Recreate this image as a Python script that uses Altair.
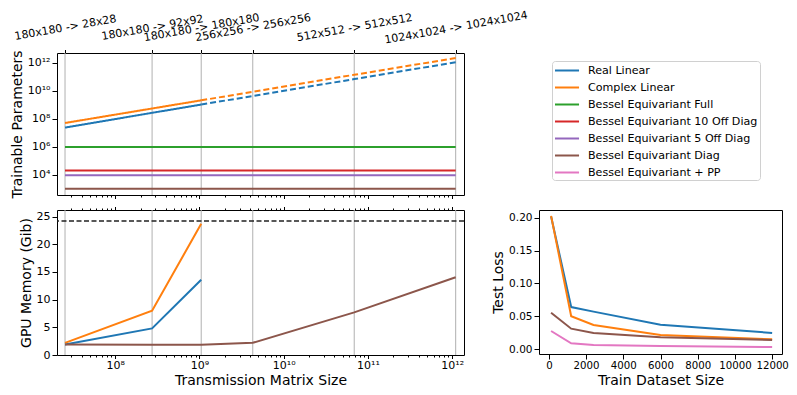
import altair as alt
import pandas as pd

# ---------------- data ----------------
series_names = ["Real Linear", "Complex Linear", "Bessel Equivariant Full",
                "Bessel Equivariant 10 Off Diag", "Bessel Equivariant 5 Off Diag",
                "Bessel Equivariant Diag", "Bessel Equivariant + PP"]
series_colors = ["#1f77b4", "#ff7f0e", "#2ca02c", "#d62728", "#9467bd", "#8c564b", "#e377c2"]

matrix_sizes = [25401600, 274233600, 1049760000, 4294967296, 68719476736, 1099511627776]
size_labels = ["180x180 -> 28x28", "180x180 -> 92x92", "180x180 -> 180x180",
               "256x256 -> 256x256", "512x512 -> 512x512", "1024x1024 -> 1024x1024"]

# trainable parameters (top panel)
params_real = [2.4e7, 2.7e8, 1.05e9, 4.3e9, 6.9e10, 1.1e12]
params_complex = [5.1e7, 5.5e8, 2.1e9, 8.6e9, 1.4e11, 2.2e12]
params_full = [1.0e6, 1.0e6, 1.0e6, 1.0e6, 1.0e6, 1.0e6]
params_off10 = [2.1e4, 2.1e4, 2.1e4, 2.1e4, 2.1e4, 2.1e4]
params_off5 = [9.5e3, 9.5e3, 9.5e3, 9.5e3, 9.5e3, 9.5e3]
params_diag = [1.05e3, 1.05e3, 1.05e3, 1.05e3, 1.05e3, 1.05e3]
measured_count = 3  # linear models measured up to 180x180 -> 180x180, extrapolated after

# GPU memory (bottom-left panel)
gpu_real = [1.9, 4.8, 13.6]
gpu_complex = [2.2, 8.0, 23.7]
gpu_diag = [1.9, 1.85, 1.85, 2.2, 7.7, 14.05]
gpu_limit = [24.2]

# test loss (bottom-right panel)
train_sizes = [120, 1200, 2400, 6000, 12000]
loss_real = [0.202, 0.064, 0.057, 0.037, 0.0245]
loss_complex = [0.203, 0.050, 0.0366, 0.0214, 0.0148]
loss_diag = [0.0554, 0.031, 0.0244, 0.0178, 0.0137]
loss_pp = [0.0275, 0.0087, 0.006, 0.0045, 0.003]

# ---------------- tables ----------------
top_rows = []
for name, vals in [(series_names[0], params_real), (series_names[1], params_complex)]:
    for i, (s, v) in enumerate(zip(matrix_sizes, vals)):
        if i < measured_count:
            top_rows.append(dict(series=name, style="measured", size=s, params=v))
        if i >= measured_count - 1:
            top_rows.append(dict(series=name, style="extrapolated", size=s, params=v))
for name, vals in [(series_names[2], params_full), (series_names[3], params_off10),
                   (series_names[4], params_off5), (series_names[5], params_diag)]:
    for s, v in zip(matrix_sizes, vals):
        top_rows.append(dict(series=name, style="measured", size=s, params=v))
top_df = pd.DataFrame(top_rows)

gpu_rows = []
for name, vals in [(series_names[0], gpu_real), (series_names[1], gpu_complex),
                   (series_names[5], gpu_diag)]:
    for s, v in zip(matrix_sizes, vals):
        gpu_rows.append(dict(series=name, size=s, gib=v))
gpu_df = pd.DataFrame(gpu_rows)
limit_df = pd.DataFrame({"gib": gpu_limit})

loss_rows = []
for name, vals in [(series_names[0], loss_real), (series_names[1], loss_complex),
                   (series_names[5], loss_diag), (series_names[6], loss_pp)]:
    for s, v in zip(train_sizes, vals):
        loss_rows.append(dict(series=name, n=s, loss=v))
loss_df = pd.DataFrame(loss_rows)

grid_df = pd.DataFrame({"size": matrix_sizes, "label": size_labels})

# ---------------- helpers ----------------
FONT = "DejaVu Sans"
SUP = "['\u2070','\u00b9','\u00b2','\u00b3','\u2074','\u2075','\u2076','\u2077','\u2078','\u2079']"
EXP = "round(log(datum.value)/LN10)"
sup_label = f"'10' + ({EXP} >= 10 ? '\u00b9' + {SUP}[{EXP}-10] : {SUP}[{EXP}])"
is_decade = f"abs(log(datum.value)/LN10 - {EXP}) < 0.001"
decade_label = f"{is_decade} ? {sup_label} : ''"

# top tick labels from the size_labels list
label_expr = ""
for i in range(len(matrix_sizes) - 1):
    mid = (matrix_sizes[i] * matrix_sizes[i + 1]) ** 0.5
    label_expr += f"datum.value < {mid:.6g} ? '{size_labels[i]}' : "
label_expr += f"'{size_labels[-1]}'"

minor_vals = [m * 10 ** e for e in range(7, 13) for m in range(1, 10)
              if 2.04e7 <= m * 10 ** e <= 1.38e12]

xscale = alt.Scale(type="log", domain=[2.04e7, 1.38e12], nice=False)
color_scale = alt.Scale(domain=series_names, range=series_colors)
color_enc = alt.Color("series:N", scale=color_scale, legend=alt.Legend(title=None))
tick_cond = {"condition": {"test": is_decade, "value": 3.5}, "value": 2}

# ---------------- top panel ----------------
top_grid = alt.Chart(grid_df).mark_rule(color="#b0b0b0", strokeWidth=1).encode(
    x=alt.X("size:Q", scale=xscale,
            axis=alt.Axis(orient="top", values=matrix_sizes, labelExpr=label_expr,
                          labelAngle=350, labelFontSize=11, labelAlign="center",
                          labelBaseline="middle", labelOverlap=False, labelFlush=False,
                          tickSize=3.5, labelPadding=22, title=None))
)
top_lines = alt.Chart(top_df).mark_line(strokeWidth=2).encode(
    x=alt.X("size:Q", scale=xscale,
            axis=alt.Axis(orient="bottom", values=minor_vals, labels=False,
                          tickSize=tick_cond, title=None, labelPadding=0)),
    y=alt.Y("params:Q", scale=alt.Scale(type="log", domain=[372, 5e12], nice=False),
            axis=alt.Axis(values=[1e4, 1e6, 1e8, 1e10, 1e12], labelExpr=sup_label,
                          labelFontSize=11, title="Trainable Parameters")),
    color=color_enc,
    strokeDash=alt.StrokeDash("style:N",
                              scale=alt.Scale(domain=["measured", "extrapolated"],
                                              range=[[1, 0], [6, 3]]),
                              legend=None),
)
top = alt.layer(top_grid, top_lines).resolve_axis(x="independent").properties(
    width=407, height=142)

# ---------------- bottom-left panel ----------------
gpu_y_axis = alt.Axis(values=[0, 5, 10, 15, 20, 25], title="GPU Memory (Gib)", labelFontSize=11)
gpu_yscale = alt.Scale(domain=[0, 26.2], nice=False, zero=False)
gpu_grid = alt.Chart(grid_df).mark_rule(color="#b0b0b0", strokeWidth=1).encode(
    x=alt.X("size:Q", scale=xscale,
            axis=alt.Axis(orient="top", values=minor_vals, labels=False,
                          tickSize=tick_cond, title=None, labelPadding=0))
)
gpu_lines = alt.Chart(gpu_df).mark_line(strokeWidth=2).encode(
    x=alt.X("size:Q", scale=xscale,
            axis=alt.Axis(orient="bottom", values=minor_vals, labelExpr=decade_label,
                          labelFontSize=11, tickSize=tick_cond, labelPadding=1,
                          titlePadding=3, title="Transmission Matrix Size")),
    y=alt.Y("gib:Q", scale=gpu_yscale, axis=gpu_y_axis),
    color=color_enc,
)
gpu_rule = alt.Chart(limit_df).mark_rule(color="#222222", strokeWidth=1.5,
                                         strokeDash=[5, 2.5]).encode(
    y=alt.Y("gib:Q", scale=gpu_yscale, axis=gpu_y_axis)
)
gpu = alt.layer(gpu_grid, gpu_lines, gpu_rule).resolve_axis(x="independent").properties(
    width=407, height=145)

# ---------------- bottom-right panel ----------------
loss = alt.Chart(loss_df).mark_line(strokeWidth=2).encode(
    x=alt.X("n:Q", scale=alt.Scale(domain=[-530, 12530], nice=False, zero=False),
            axis=alt.Axis(values=[0, 2000, 4000, 6000, 8000, 10000, 12000], format="d",
                          labelFontSize=10.2, labelOverlap=False, labelFlush=False,
                          labelPadding=1, titlePadding=3, title="Train Dataset Size")),
    y=alt.Y("loss:Q", scale=alt.Scale(domain=[-0.0076, 0.212], nice=False, zero=False),
            axis=alt.Axis(values=[0, 0.05, 0.1, 0.15, 0.2], format=".2f",
                          labelFontSize=10.5, title="Test Loss")),
    color=color_enc,
).properties(width=243, height=144)

bottom = alt.hconcat(gpu, loss, spacing=25)

chart = alt.vconcat(top, bottom, spacing=5).properties(
    padding={"left": 1, "top": 0, "right": 0, "bottom": 0}
).configure_view(
    stroke="black", strokeWidth=1
).configure_axis(
    domain=False, grid=False, tickColor="black", tickWidth=1, labelColor="black",
    titleColor="black", labelFont=FONT, titleFont=FONT, titleFontSize=14,
    titleFontWeight="normal", labelPadding=2, titlePadding=3
).configure_legend(
    orient="none", legendX=495, legendY=8,
    strokeColor="#d0d0d0", fillColor="white", cornerRadius=3, padding=2,
    labelFont=FONT, labelFontSize=11.1, labelColor="black", labelOffset=19,
    symbolType="M-1,0L2.7,0", symbolSize=169, symbolStrokeWidth=2,
    rowPadding=4, labelLimit=300
)

chart.save("out.html", embed_options={"renderer": "svg", "actions": False})
